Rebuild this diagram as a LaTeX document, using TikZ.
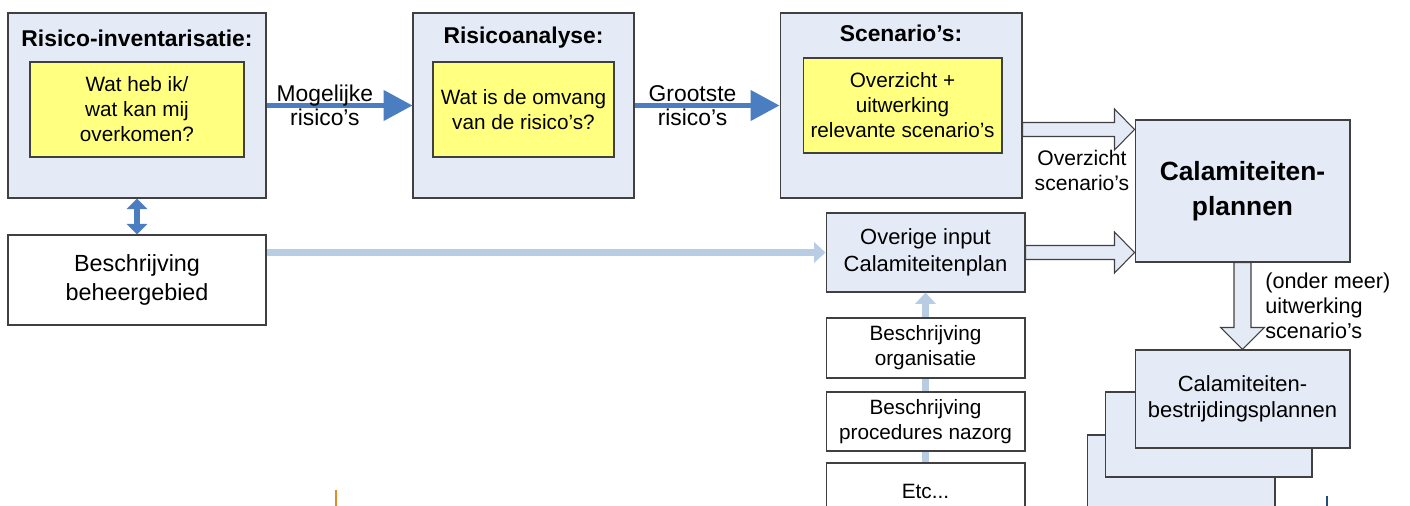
\documentclass[tikz,border=0pt]{standalone}
\usepackage{fontspec}
\setmainfont{Liberation Sans}
\usetikzlibrary{arrows.meta,calc}
\definecolor{boxblue}{RGB}{228,234,246}
\definecolor{noteyellow}{RGB}{255,255,128}
\definecolor{arrowblue}{RGB}{74,126,193}
\definecolor{lineblue}{RGB}{184,204,228}
\definecolor{edgegray}{RGB}{64,64,64}
\definecolor{tickorange}{RGB}{228,140,40}
\definecolor{tickblue}{RGB}{31,78,121}

\newcommand\hollowright[2]{\draw[hollow] let \p1=#1, \p2=#2 in
  (\x1,\y1+0.14cm) -- (\x2-0.4cm,\y1+0.14cm) -- (\x2-0.4cm,\y1+0.41cm) -- (\x2,\y1)
  -- (\x2-0.4cm,\y1-0.41cm) -- (\x2-0.4cm,\y1-0.14cm) -- (\x1,\y1-0.14cm) -- cycle;}
\newcommand\hollowdown[2]{\draw[hollow] let \p1=#1, \p2=#2 in
  (\x1-0.17cm,\y1) -- (\x1-0.17cm,\y2+0.44cm) -- (\x1-0.44cm,\y2+0.44cm) -- (\x1,\y2)
  -- (\x1+0.44cm,\y2+0.44cm) -- (\x1+0.17cm,\y2+0.44cm) -- (\x1+0.17cm,\y1) -- cycle;}

\begin{document}
\begin{tikzpicture}[x=0.02cm,y=-0.02cm,font=\fontsize{11.8}{14.2}\selectfont,
  box/.style={draw=edgegray,fill=boxblue,line width=0.6pt,inner sep=0pt,align=center},
  note/.style={box,fill=noteyellow},
  plain/.style={box,fill=white},
  title/.style={font=\fontsize{13}{15}\selectfont\bfseries,inner sep=0pt},
  lbl/.style={font=\fontsize{13}{13.7}\selectfont,text=black,align=center,inner sep=0pt},
  flow/.style={arrowblue,line width=2.85pt,-{Triangle[length=16.5pt,width=17pt]}},
  feed/.style={lineblue,line width=4pt,-{Triangle[length=6.5pt,width=11.5pt]}},
  hollow/.style={draw=edgegray,fill=boxblue,line width=0.6pt}]
\useasboundingbox (0,0) rectangle (1410,506);
\clip (0,0) rectangle (1410,506);
\node [box,minimum width=5.16cm,minimum height=3.7cm] (a) at (137,105.5) {};
\node [title] (a0) at (137,38) {Risico-inventarisatie:};
\node [note,minimum width=4.28cm,minimum height=1.9cm] (a1) at (137,109.5) {Wat heb ik/\\wat kan mij\\overkomen?};
\node [box,minimum width=4.42cm,minimum height=3.7cm] (b) at (523.5,105.5) {};
\node [title] (b0) at (523.5,38) {Risicoanalyse:};
\node [note,minimum width=3.62cm,minimum height=1.9cm] (b1) at (523.5,109.5) {Wat is de omvang\\van de risico’s?};
\node [box,minimum width=4.84cm,minimum height=3.7cm] (c) at (901,105.5) {};
\node [title] (c0) at (901,33) {Scenario’s:};
\node [note,minimum width=3.98cm,minimum height=1.9cm] (c1) at (902.5,105.5) {Overzicht +\\uitwerking\\relevante scenario’s};
\node [box,minimum width=4.3cm,minimum height=2.84cm,font=\fontsize{15}{19.9}\selectfont\bfseries] (d) at (1242.5,191) {Calamiteiten-\\plannen};
\node [plain,minimum width=5.16cm,minimum height=1.8cm,font=\fontsize{13.3}{16.5}\selectfont] (e) at (137,280) {Beschrijving\\beheergebied};
\node [box,minimum width=3.98cm,minimum height=1.58cm,font=\fontsize{12.5}{15.4}\selectfont] (f) at (925.5,252.5) {Overige input\\Calamiteitenplan};
\node [plain,minimum width=3.98cm,minimum height=1.2cm] (g) at (925.5,348) {Beschrijving\\organisatie};
\node [plain,minimum width=3.98cm,minimum height=1.18cm] (h) at (925.5,421.5) {Beschrijving\\procedures nazorg};
\node [plain,minimum width=3.98cm,minimum height=1.14cm] (i) at (925.5,491.5) {Etc...};
\node [box,minimum width=3.76cm,minimum height=1.8cm] (l) at (1181,480) {};
\node [box,minimum width=4.14cm,minimum height=1.7cm] (k) at (1208.5,434.5) {};
\node [box,minimum width=4.3cm,minimum height=1.96cm,font=\fontsize{12.5}{14.8}\selectfont] (j) at (1242.5,399) {Calamiteiten-\\bestrijdingsplannen};
\draw[flow] (a) -- node[lbl,pos=0.4] (m) {Mogelijke\\risico’s} (b);
\draw[flow] (b) -- node[lbl,pos=0.4] (n) {Grootste\\risico’s} (c);
\draw[arrowblue,line width=3pt,{Triangle[length=6pt,width=11.5pt]}-{Triangle[length=6pt,width=11.5pt]}] (a) -- (e);
\draw[feed] (e.east |- f.west) -- (f.west);
\draw[feed] (g) -- (f);
\draw[lineblue,line width=4pt] (h) -- (g);
\draw[lineblue,line width=4pt] (i) -- (h);
\coordinate (q) at ($(d.north west)+(0,10)$);
\hollowright{(c.east |- q)}{(q)}
\hollowright{(f.east)}{(d.west |- f.east)}
\hollowdown{(d.south)}{(j.north)}
\node [lbl,font=\fontsize{12}{14.2}\selectfont] (o) at (1082,170) {Overzicht\\scenario’s};
\node [lbl,font=\fontsize{12.3}{14.2}\selectfont,align=left,anchor=west] (p) at (1265,306) {(onder meer)\\uitwerking\\scenario’s};
\draw[tickorange,line width=0.8pt] (336,490) -- (336,506);
\draw[tickblue,line width=0.8pt] (1327,496) -- (1327,506);
\end{tikzpicture}
\end{document}
